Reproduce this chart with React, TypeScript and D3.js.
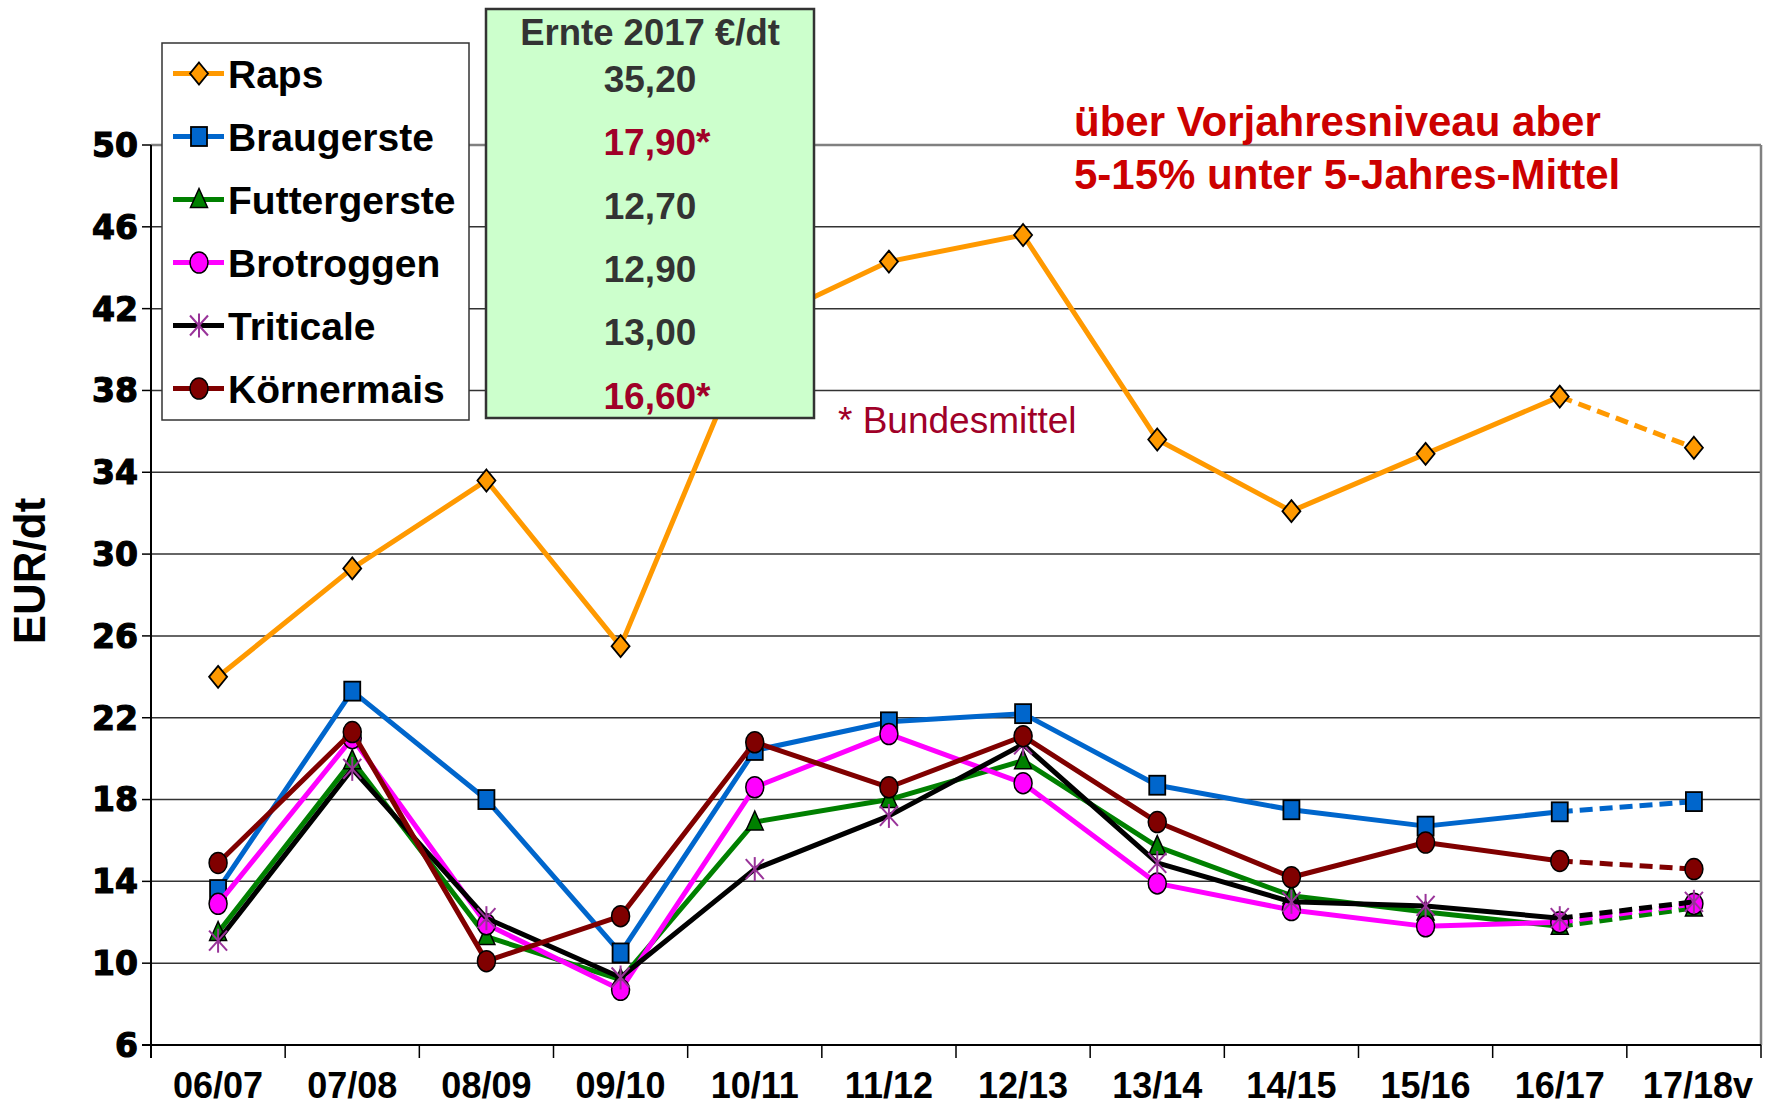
import React from "react";
import * as d3 from "d3";

// marketing years (17/18 = preliminary)
const categories = ["06/07", "07/08", "08/09", "09/10", "10/11", "11/12", "12/13", "13/14", "14/15", "15/16", "16/17", "17/18v"];

const raps = [24.0, 29.3, 33.6, 25.5, 41.2, 44.3, 45.6, 35.6, 32.1, 34.9, 37.7, 35.2];
const braugerste = [13.6, 23.3, 18.0, 10.5, 20.4, 21.8, 22.2, 18.7, 17.5, 16.7, 17.4, 17.9];
const futtergerste = [11.5, 19.9, 11.3, 9.2, 16.9, 18.0, 19.9, 15.7, 13.3, 12.5, 11.8, 12.7];
const brotroggen = [12.9, 21.0, 11.9, 8.7, 18.6, 21.2, 18.8, 13.9, 12.6, 11.8, 12.0, 12.9];
const triticale = [11.1, 19.5, 12.2, 9.3, 14.6, 17.2, 20.7, 14.9, 13.0, 12.8, 12.2, 13.0];
const koernermais = [14.9, 21.3, 10.1, 12.3, 20.8, 18.6, 21.1, 16.9, 14.2, 15.9, 15.0, 14.6];

const yTicks = [6, 10, 14, 18, 22, 26, 30, 34, 38, 42, 46, 50];

const boxTitle = "Ernte 2017 €/dt";
const boxValues = ["35,20", "17,90*", "12,70", "12,90", "13,00", "16,60*"];
const boxHighlight = [false, true, false, false, false, true];

const series = [
  { name: "Raps", values: raps, color: "#FF9900", marker: "diamond", fill: "#FF9900" },
  { name: "Braugerste", values: braugerste, color: "#0066CC", marker: "square", fill: "#0066CC" },
  { name: "Futtergerste", values: futtergerste, color: "#008000", marker: "triangle", fill: "#008000" },
  { name: "Brotroggen", values: brotroggen, color: "#FF00FF", marker: "circle", fill: "#FF00FF" },
  { name: "Triticale", values: triticale, color: "#000000", marker: "star", fill: "#993399" },
  { name: "Körnermais", values: koernermais, color: "#800000", marker: "circle", fill: "#800000" },
];

const W = 1772, H = 1106;
const left = 151, right = 1761, top = 145, bottom = 1045;

function Marker({ kind, fill, cx, cy }) {
  if (kind === "diamond")
    return <path d={`M${cx},${cy - 11}L${cx + 9},${cy}L${cx},${cy + 11}L${cx - 9},${cy}Z`} fill={fill} stroke="#000" strokeWidth={1.8} />;
  if (kind === "square")
    return <rect x={cx - 8} y={cy - 9.5} width={16} height={19} fill={fill} stroke="#000" strokeWidth={1.8} />;
  if (kind === "triangle")
    return <path d={`M${cx},${cy - 11}L${cx + 8.5},${cy + 8}L${cx - 8.5},${cy + 8}Z`} fill={fill} stroke="#000" strokeWidth={1.5} />;
  if (kind === "circle")
    return <ellipse cx={cx} cy={cy} rx={9} ry={10.5} fill={fill} stroke="#000" strokeWidth={1.5} />;
  // star: asterisk made of vertical + two diagonals
  return (
    <g stroke={fill} strokeWidth={2}>
      <line x1={cx} y1={cy - 12} x2={cx} y2={cy + 12} />
      <line x1={cx - 9} y1={cy - 10} x2={cx + 9} y2={cy + 10} />
      <line x1={cx - 9} y1={cy + 10} x2={cx + 9} y2={cy - 10} />
    </g>
  );
}

export default function App() {
  const x = d3.scaleBand().domain(categories).range([left, right]);
  const y = d3.scaleLinear().domain([6, 50]).range([bottom, top]);
  const cx = (c) => x(c) + x.bandwidth() / 2;
  const line = d3.line().x((d) => cx(d[0])).y((d) => y(d[1]));
  const n = categories.length;

  return (
    <svg width={W} height={H} style={{ position: "absolute", left: 0, top: 0, background: "#fff" }} fontFamily="'Liberation Sans', Arial, sans-serif">
      <rect width={W} height={H} fill="#fff" />
      {/* grid */}
      {yTicks.filter((t) => t !== 6 && t !== 50).map((t) => (
        <line key={t} x1={left} x2={right} y1={y(t)} y2={y(t)} stroke="#333" strokeWidth={1.5} />
      ))}
      <line x1={left} x2={right} y1={y(50)} y2={y(50)} stroke="#808080" strokeWidth={2.5} />
      <line x1={right} x2={right} y1={y(50)} y2={bottom} stroke="#808080" strokeWidth={2.5} />
      {/* axes */}
      <line x1={left} x2={left} y1={top} y2={bottom + 13} stroke="#000" strokeWidth={2} />
      <line x1={left - 9} x2={right} y1={bottom} y2={bottom} stroke="#000" strokeWidth={2} />
      {yTicks.map((t) => (
        <g key={t}>
          <line x1={left - 9} x2={left} y1={y(t)} y2={y(t)} stroke="#000" strokeWidth={1.5} />
          <text x={138} y={y(t)} dy="0.36em" textAnchor="end" fontFamily="'DejaVu Sans', sans-serif" fontWeight="bold" fontSize={33} stroke="#000" strokeWidth={1.2}>{t}</text>
        </g>
      ))}
      {categories.map((c, i) => (
        <g key={c}>
          <line x1={x(c) + x.bandwidth()} x2={x(c) + x.bandwidth()} y1={bottom} y2={bottom + 13} stroke="#000" strokeWidth={1.5} />
          <text x={cx(c) + (i === n - 1 ? 4 : 0)} y={1098} textAnchor="middle" fontWeight="bold" fontSize={36}>{c}</text>
        </g>
      ))}
      <text transform="translate(45,571) rotate(-90)" textAnchor="middle" fontWeight="bold" fontSize={44}>EUR/dt</text>

      {/* series */}
      {series.map((s) => {
        const pts = categories.map((c, i) => [c, s.values[i]]);
        return (
          <g key={s.name}>
            <path d={line(pts.slice(0, n - 1))} fill="none" stroke={s.color} strokeWidth={5} strokeLinejoin="round" />
            <path d={line(pts.slice(n - 2))} fill="none" stroke={s.color} strokeWidth={5} strokeDasharray="13,7" />
            {pts.map((p) => (
              <Marker key={p[0]} kind={s.marker} fill={s.fill} cx={cx(p[0])} cy={y(p[1])} />
            ))}
          </g>
        );
      })}

      {/* legend */}
      <rect x={162} y={43} width={307} height={377} fill="#fff" stroke="#333" strokeWidth={1.5} />
      {series.map((s, i) => {
        const ly = 73.5 + i * 63;
        return (
          <g key={s.name}>
            <line x1={173} x2={224} y1={ly} y2={ly} stroke={s.color} strokeWidth={5} />
            <Marker kind={s.marker} fill={s.fill} cx={199} cy={ly} />
            <text x={228} y={ly + 14} fontWeight="bold" fontSize={39}>{s.name}</text>
          </g>
        );
      })}

      {/* green value box */}
      <rect x={486} y={9} width={328} height={409} fill="#CCFFCC" stroke="#333" strokeWidth={2.5} />
      <text x={650} y={45} textAnchor="middle" fontWeight="bold" fontSize={36.5} fill="#333">{boxTitle}</text>
      {boxValues.map((v, i) => (
        <text key={i} x={boxHighlight[i] ? 657 : 650} y={79 + i * 63.3 + 13} textAnchor="middle" fontWeight="bold" fontSize={37} fill={boxHighlight[i] ? "#A00028" : "#333"}>{v}</text>
      ))}

      {/* annotations */}
      <text x={838} y={433} fontSize={37} fill="#A00028">* Bundesmittel</text>
      <text x={1074} y={136} fontWeight="bold" fontSize={42} fill="#CC0000">über Vorjahresniveau aber</text>
      <text x={1074} y={189} fontWeight="bold" fontSize={42} fill="#CC0000">5-15% unter 5-Jahres-Mittel</text>
    </svg>
  );
}
